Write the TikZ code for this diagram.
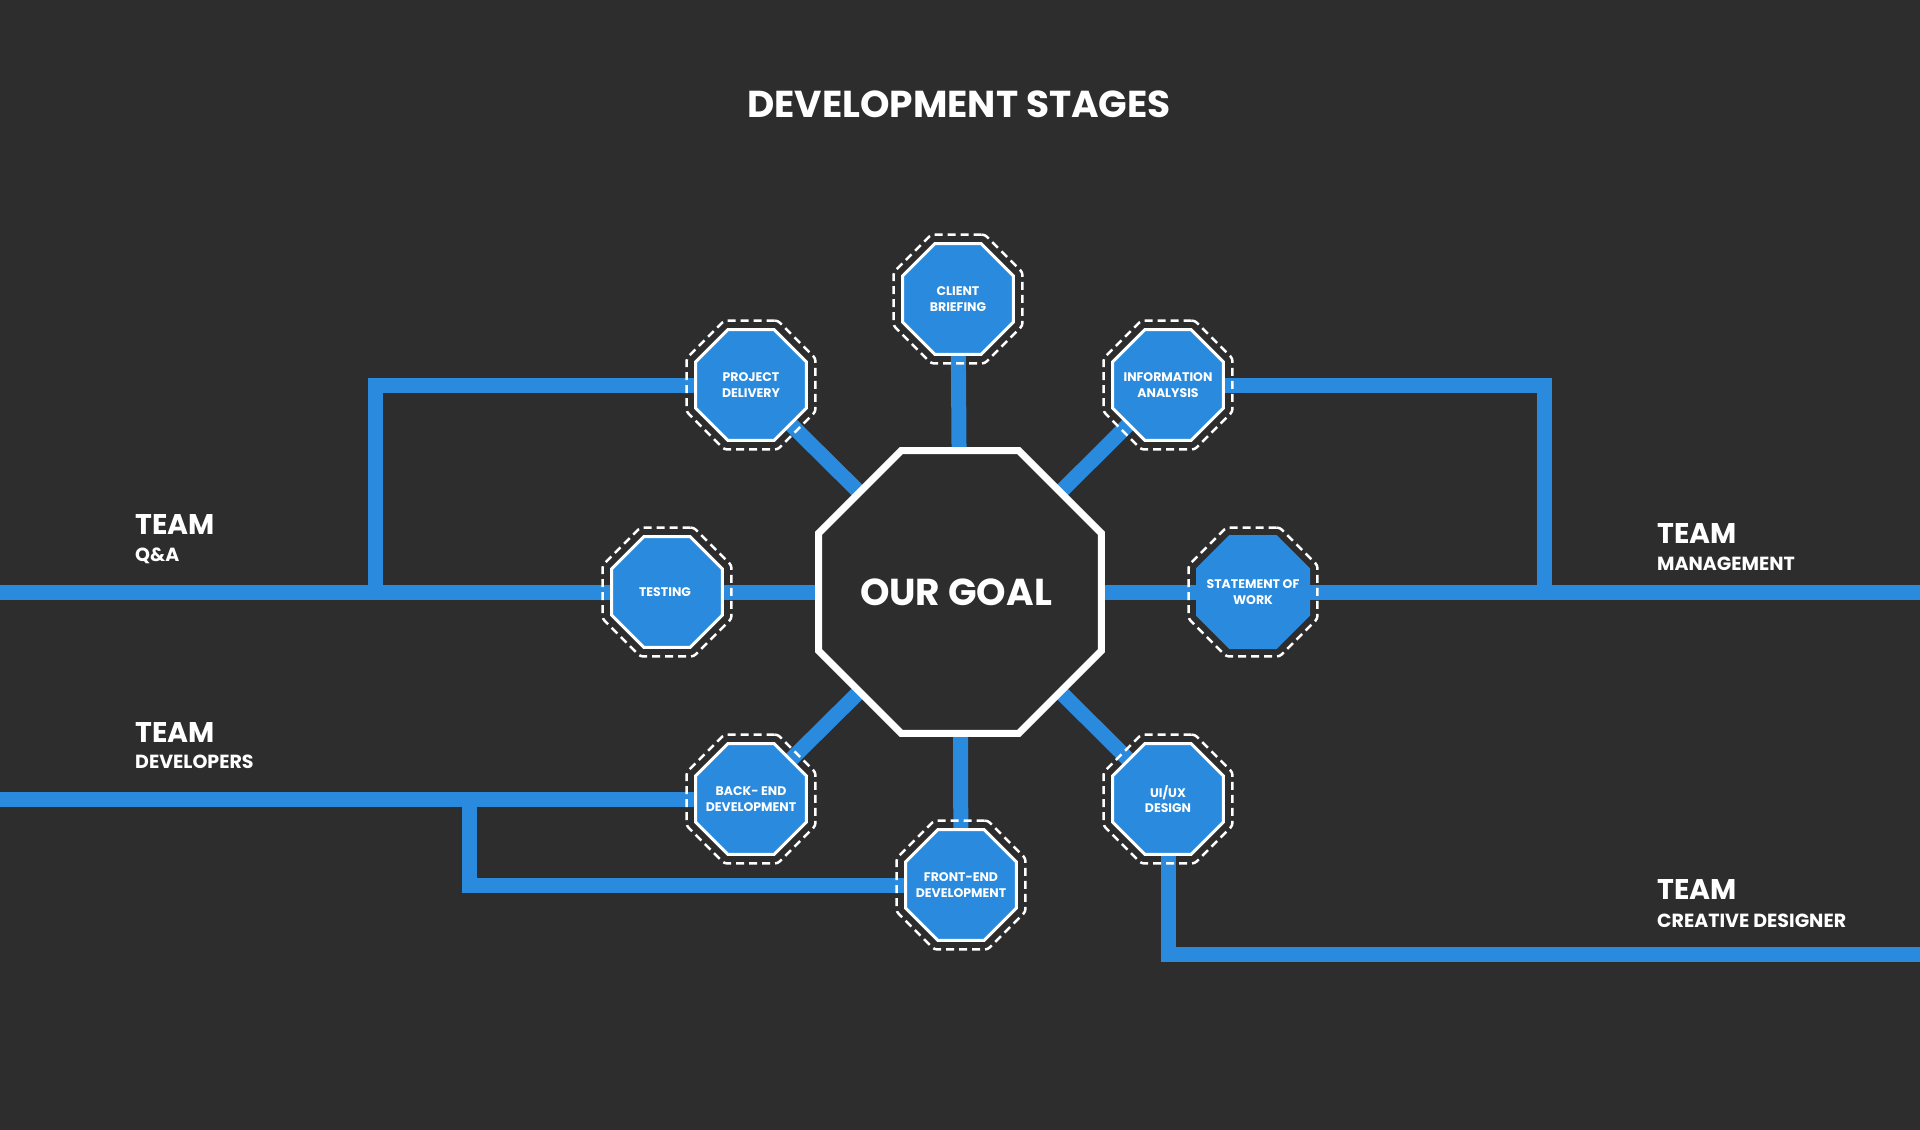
\documentclass[tikz,border=0pt]{standalone}
\usepackage{fontspec}
\setmainfont{Poppins}
\usetikzlibrary{shapes.geometric,backgrounds}
\definecolor{bgc}{HTML}{2D2D2D}
\definecolor{bluec}{HTML}{2A8ADE}
\tikzset{
  stage/.style={regular polygon, regular polygon sides=8, minimum size=120.1pt, inner sep=0pt,
    fill=bluec, draw=white, line width=3pt},
  stagenb/.style={stage, draw=none, minimum size=123.4pt},
  stagetext/.style={text=white, align=center, inner sep=0pt,
    font=\bfseries\fontsize{12.5}{15.5}\selectfont},
  ring/.style={regular polygon, regular polygon sides=8, minimum size=139.6pt, inner sep=0pt,
    draw=white, line width=2.5pt, dash pattern=on 8pt off 5pt, rounded corners=3pt},
  goal/.style={regular polygon, regular polygon sides=8, minimum size=306.3pt, inner sep=0pt,
    fill=bgc, draw=white, line width=7pt},
  goaltext/.style={text=white, inner sep=0pt, font=\bfseries\fontsize{37.5}{40}\selectfont},
  link/.style={draw=bluec, line width=15pt},
  teamt/.style={anchor=base west, text=white, inner sep=0pt, font=\bfseries\fontsize{28.5}{28.5}\selectfont},
  teams/.style={anchor=base west, text=white, inner sep=0pt, font=\bfseries\fontsize{19}{19}\selectfont},
  titlet/.style={anchor=base, text=white, inner sep=0pt, font=\bfseries\fontsize{37.5}{37.5}\selectfont},
}
\begin{document}
\begin{tikzpicture}[x=1pt, y=-1pt]
\useasboundingbox (0,0) rectangle (1920,1130);

% central goal
\node[goal] (G) at (960,592) {};
\node[goaltext] (G-t) at ([xshift=-4pt]G.center) {OUR GOAL};

% stages
\node[stage] (CB) at (958,299) {};
\node[stage] (PD) at (751,385) {};
\node[stage] (IA) at (1168,385) {};
\node[stage] (TE) at (667,592) {};
\node[stagenb] (SW) at (1253,592) {};
\node[stage] (BE) at (751,799) {};
\node[stage] (UX) at (1168,799) {};
\node[stage] (FE) at (961,885) {};

\node[stagetext] (CB-t) at (CB.center) {CLIENT\\BRIEFING};
\node[stagetext] (PD-t) at (PD.center) {PROJECT\\DELIVERY};
\node[stagetext] (IA-t) at (IA.center) {INFORMATION\\ANALYSIS};
\node[stagetext] (TE-t) at ([xshift=-2pt]TE.center) {TESTING};
\node[stagetext] (SW-t) at (SW.center) {STATEMENT OF\\WORK};
\node[stagetext] (BE-t) at (BE.center) {BACK- END\\DEVELOPMENT};
\node[stagetext] (UX-t) at (UX.center) {UI/UX\\DESIGN};
\node[stagetext] (FE-t) at (FE.center) {FRONT-END\\DEVELOPMENT};

% dashed rings
\foreach \n in {CB,PD,IA,TE,SW,BE,UX,FE}
  \node[ring] (\n-ring) at (\n.center) {};

% title and team labels
\node[titlet] (title) at (959,117) {DEVELOPMENT STAGES};
\node[teamt] (qaT) at (135,534) {TEAM};
\node[teams] (qaS) at (135,561) {Q\&A};
\node[teamt] (devT) at (135,742) {TEAM};
\node[teams] (devS) at (135,768) {DEVELOPERS};
\node[teamt] (mgT) at (1657,543) {TEAM};
\node[teams] (mgS) at (1657,570) {MANAGEMENT};
\node[teamt] (cdT) at (1657,899) {TEAM};
\node[teams] (cdS) at (1657,927) {CREATIVE DESIGNER};

% route points
\coordinate (qaL) at (0,592);
\coordinate (qaJ) at (375,592);
\coordinate (mgR) at (1920,592);
\coordinate (mgJ) at (1544,592);
\coordinate (devL) at (0,799);
\coordinate (devJ) at (469,799);
\coordinate (cdR) at (1920,954);

\begin{pgfonlayer}{background}
  \fill[bgc] (0,0) rectangle (1920,1130);
  \foreach \n in {CB,PD,IA,TE,SW,BE,UX,FE}
    \draw[link] (G.center) -- (\n.center);
  \draw[link] (qaL) -- (TE.center);
  \draw[link] (qaJ) |- (PD.center);
  \draw[link] (SW.center) -- (mgR);
  \draw[link] (mgJ) |- (IA.center);
  \draw[link] (devL) -- (BE.center);
  \draw[link] (devJ) |- (FE.center);
  \draw[link] (UX.center) |- (cdR);
\end{pgfonlayer}
\end{tikzpicture}
\end{document}
